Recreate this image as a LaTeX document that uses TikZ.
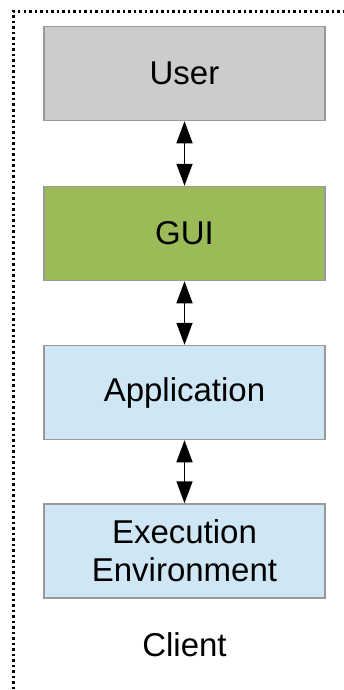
\documentclass[tikz,border=0pt]{standalone}
\usepackage{fontspec}
\setmainfont{Liberation Sans}
\usetikzlibrary{arrows.meta}
\definecolor{usergray}{HTML}{CCCCCC}
\definecolor{guigreen}{HTML}{9BBB59}
\definecolor{appblue}{HTML}{CFE7F5}
\definecolor{edgegray}{HTML}{999999}
\begin{document}
\begin{tikzpicture}[x=1pt,y=-1pt,
  layer/.style={draw=edgegray,line width=1.5pt,minimum width=281pt,minimum height=94pt,
    inner sep=0pt,align=center,font=\fontsize{33}{38}\selectfont},
  link/.style={line width=1.5pt,{Triangle[width=16pt,length=22pt]}-{Triangle[width=16pt,length=22pt]}}]
  \useasboundingbox (0,0) rectangle (344,690);
  % dotted client boundary (runs past the right and bottom edges)
  \draw[line width=2.5pt,dash pattern=on 2.5pt off 3pt] (13.5,700) -- (13.5,11.5) -- (360,11.5);
  \node[layer,fill=usergray] (user) at (184.5,73.5) {User};
  \node[layer,fill=guigreen] (gui) at (184.5,233.5) {GUI};
  \node[layer,fill=appblue] (app) at (184.5,392.5) {Application};
  \node[layer,fill=appblue] (env) at (184.5,551) {Execution\\Environment};
  \node[font=\fontsize{33}{38}\selectfont] (client) at (184.5,645) {Client};
  \draw[link] (user.south) -- (gui.north);
  \draw[link] (gui.south) -- (app.north);
  \draw[link] (app.south) -- (env.north);
\end{tikzpicture}
\end{document}
